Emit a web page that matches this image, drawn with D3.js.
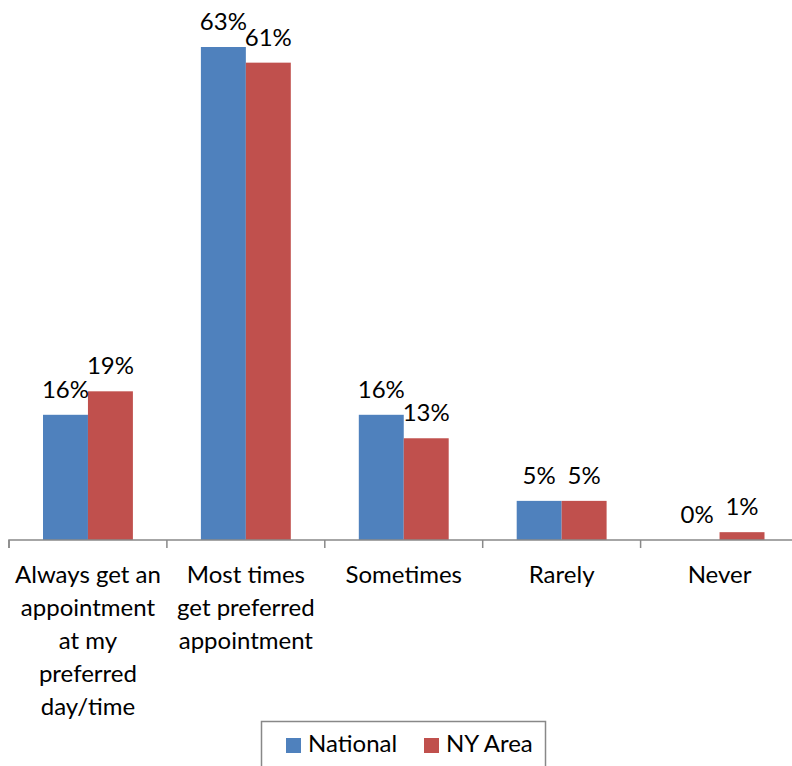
<!DOCTYPE html>
<html><head><meta charset="utf-8">
<script src="https://cdn.jsdelivr.net/npm/d3@7"></script>
<style>body{margin:0;background:#fff}svg{display:block}</style>
</head><body>
<svg id="c" width="792" height="766"></svg>
<script>
const categories = ["Always get an appointment at my preferred day/time","Most times get preferred appointment","Sometimes","Rarely","Never"];
const categoryLines = [["Always get an","appointment","at my","preferred","day/time"],["Most times","get preferred","appointment"],["Sometimes"],["Rarely"],["Never"]];
const seriesNames = ["National","NY Area"];
const national = [16,63,16,5,0];
const nyArea = [19,61,13,5,1];
const colors = ["#4F81BD","#C0504D"];

const FONT = "Lato, 'Open Sans', sans-serif";
const FS = 24;
const svg = d3.select("#c");
const left = 9, catW = 157.9, baseY = 540;
const x = d3.scaleBand().domain(categories).range([left, left + catW*categories.length]).paddingInner(0).paddingOuter(0);
const inner = d3.scaleBand().domain(seriesNames).range([34, catW-34]);
const y = d3.scaleLinear().domain([0,63]).range([baseY, 47]);

const series = [national, nyArea];
const data = [];
categories.forEach((c,i)=>seriesNames.forEach((s,j)=>data.push({c,s,j,v:series[j][i]})));

svg.append("g").selectAll("rect").data(data).join("rect")
  .attr("x", d=>x(d.c)+inner(d.s))
  .attr("width", inner.bandwidth())
  .attr("y", d=>y(d.v))
  .attr("height", d=>baseY - y(d.v))
  .attr("fill", d=>colors[d.j]);

svg.append("g").selectAll("text").data(data).join("text")
  .attr("x", d=>x(d.c)+inner(d.s)+inner.bandwidth()/2)
  .attr("y", d=>y(d.v)-17)
  .attr("text-anchor","middle")
  .attr("font-family",FONT).attr("font-size",FS).attr("fill","#000")
  .text(d=>d.v+"%");

// axis
const axis = d3.axisBottom(x).tickSize(8).tickFormat("");
const ag = svg.append("g").attr("transform",`translate(0,${baseY})`).call(axis);
ag.select(".domain").attr("stroke","#898989").attr("stroke-width",1.5).attr("d",`M${left},8V0H${left+catW*5}`);
ag.selectAll(".tick").remove();
const bounds = d3.range(categories.length+1).map(i=>left+i*catW);
ag.selectAll("line.b").data(bounds).join("line").attr("class","b")
  .attr("x1",d=>d).attr("x2",d=>d).attr("y1",0).attr("y2",8)
  .attr("stroke","#898989").attr("stroke-width",1.5);

const lg = svg.append("g");
categories.forEach((c,i)=>{
  const t = lg.append("text").attr("text-anchor","middle")
    .attr("font-family",FONT).attr("font-size",FS).attr("fill","#000");
  categoryLines[i].forEach((ln,k)=>{
    t.append("tspan").attr("x", x(c)+x.bandwidth()/2).attr("y", 583 + k*33).text(ln);
  });
});

// legend
const leg = svg.append("g");
leg.append("rect").attr("x",261.5).attr("y",721.5).attr("width",284).attr("height",60)
  .attr("fill","#fff").attr("stroke","#888").attr("stroke-width",1.5);
const legX = [286,424];
seriesNames.forEach((s,j)=>{
  leg.append("rect").attr("x",legX[j]).attr("y",738).attr("width",15).attr("height",15).attr("fill",colors[j]);
  leg.append("text").attr("x",legX[j]+22).attr("y",752).attr("font-family",FONT).attr("font-size",FS).attr("fill","#000").text(s);
});
</script>
</body></html>
